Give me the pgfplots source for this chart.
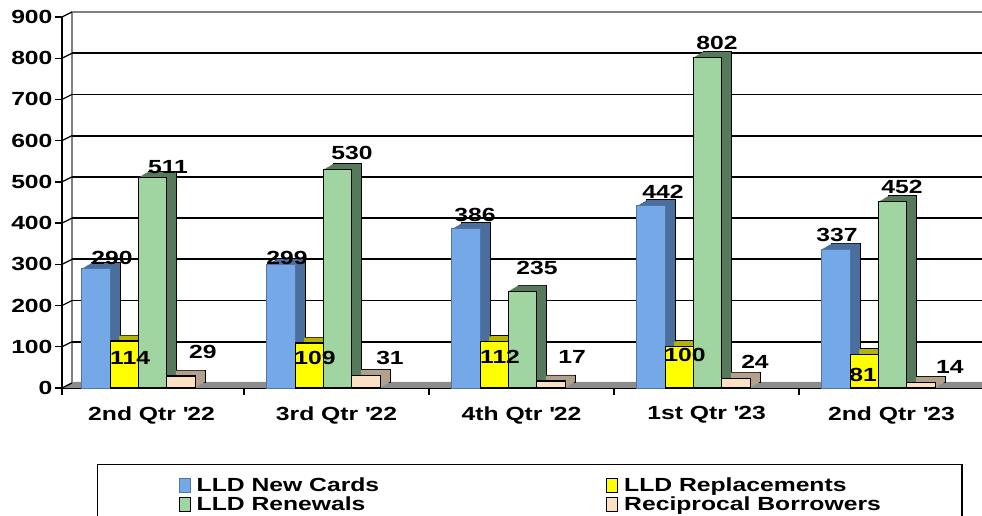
\documentclass[border=0pt]{standalone}
\usepackage{pgfplots}
\pgfplotsset{compat=1.18}
\usepackage{pgfplotstable}
\usepackage{fontspec}
\setmainfont{Liberation Sans}[FakeStretch=1.3]
\definecolor{blueF}{HTML}{74A8E6}
\definecolor{blueS}{HTML}{4A6F9E}
\definecolor{yelF}{HTML}{FFFF00}
\definecolor{yelS}{HTML}{B3B300}
\definecolor{grnF}{HTML}{A0D4A0}
\definecolor{grnS}{HTML}{55795A}
\definecolor{tanF}{HTML}{FBE0C4}
\definecolor{tanS}{HTML}{B0A08C}
\newcommand\ff{\bfseries\fontsize{19}{22}\selectfont}

\pgfplotstableread{
x nc rep ren rb
0 290 114 511 29
1 299 109 530 31
2 386 112 235 17
3 442 100 802 24
4 337 81 452 14
}\datatable

\pgfplotsset{
  bar3d/.style={ybar, bar width=28.5pt, forget plot},
  boxlegend/.style={legend image code/.code={\draw[##1, line width=1pt] (0pt,-6pt) rectangle (11pt,8pt);}},
}

\begin{document}
\begin{tikzpicture}
\useasboundingbox (0,0) rectangle (982pt,516pt);
\begin{axis}[
  at={(62pt,128pt)}, anchor=south west,
  scale only axis, width=922pt, height=371pt,
  xmin=-0.484, xmax=4.5, ymin=0, ymax=900,
  clip=false,
  axis x line*=bottom, axis y line*=left,
  axis line style={black, line width=1.6pt},
  ytick={0,100,...,900},
  xtick={0,1,2,3,4},
  xticklabels={2nd Qtr {\textquotesingle}22, 3rd Qtr {\textquotesingle}22, 4th Qtr {\textquotesingle}22, 1st Qtr {\textquotesingle}23, 2nd Qtr {\textquotesingle}23},
  minor xtick={-0.484,0.5,1.5,2.5,3.5},
  tick align=outside,
  major tick length=7pt, minor tick length=7pt,
  major x tick style={draw=none},
  minor x tick style={black, line width=1.3pt},
  major y tick style={black, line width=1.3pt},
  /pgf/number format/assume math mode=true,
  ticklabel style={font=\ff},
  yticklabel style={anchor=east, xshift=1pt},
  xticklabel style={anchor=north, yshift=-8pt},
  legend style={at={(0.038,-0.205)}, anchor=north west, draw=black, line width=1.3pt,
    inner xsep=81pt, inner ysep=13pt, font=\ff, legend columns=2,
    column sep=6pt, row sep=1pt,
    nodes={inner sep=0pt, text height=14pt, text depth=4pt},
    /tikz/every even column/.append style={column sep=227pt}},
  legend cell align=left,
]
% floor and back wall
\fill[gray!90] (axis cs:-0.484,0) -- ([xshift=10pt,yshift=6pt]axis cs:-0.484,0) -- ([xshift=10pt,yshift=6pt]axis cs:4.6,0) -- (axis cs:4.6,0) -- cycle;
\draw[gray, line width=1.3pt] ([xshift=10pt,yshift=6pt]axis cs:-0.484,0) -- ([xshift=10pt,yshift=6pt]axis cs:-0.484,900);
\draw[gray, line width=1.6pt] ([xshift=10pt,yshift=5pt]axis cs:-0.484,900) -- ([xshift=10pt,yshift=5pt]axis cs:4.6,900);
\pgfplotsinvokeforeach{100,200,...,800}{
  \draw[black, line width=1.7pt] ([xshift=10pt,yshift=5pt]axis cs:-0.484,#1) -- ([xshift=10pt,yshift=5pt]axis cs:4.6,#1);
}
\pgfplotsinvokeforeach{0,100,...,900}{
  \draw[black, line width=1.2pt] (axis cs:-0.484,#1) -- ([xshift=10pt,yshift=5pt]axis cs:-0.484,#1);
}
% 3D depth of bars
\addplot[bar3d, bar shift=-55.5pt, fill=blueS, draw=black, line width=0.8pt, xshift=10pt, yshift=6pt] table[x=x,y=nc]{\datatable};
\addplot[bar3d, bar shift=-27pt, fill=yelS, draw=black, line width=0.8pt, xshift=10pt, yshift=6pt] table[x=x,y=rep]{\datatable};
\addplot[bar3d, bar shift=1pt, fill=grnS, draw=black, line width=0.8pt, xshift=10pt, yshift=6pt] table[x=x,y=ren]{\datatable};
\addplot[bar3d, bar shift=29.5pt, fill=tanS, draw=black, line width=0.8pt, xshift=10pt, yshift=6pt] table[x=x,y=rb]{\datatable};
\pgfplotsinvokeforeach{1,2,3,4,5,6,7,8,9}{
\addplot[bar3d, bar shift=-55.5pt, fill=blueS, draw=none, xshift=#1pt, yshift=0.6*#1pt] table[x=x,y=nc]{\datatable};
\addplot[bar3d, bar shift=-27pt, fill=yelS, draw=none, xshift=#1pt, yshift=0.6*#1pt] table[x=x,y=rep]{\datatable};
\addplot[bar3d, bar shift=1pt, fill=grnS, draw=none, xshift=#1pt, yshift=0.6*#1pt] table[x=x,y=ren]{\datatable};
\addplot[bar3d, bar shift=29.5pt, fill=tanS, draw=none, xshift=#1pt, yshift=0.6*#1pt] table[x=x,y=rb]{\datatable};
}
% front faces
\addplot[ybar, bar width=28.5pt, bar shift=-55.5pt, fill=blueF, draw=blueF!70!black, line width=0.8pt, boxlegend] table[x=x,y=nc]{\datatable};
\addplot[ybar, bar width=28.5pt, bar shift=-27pt, fill=yelF, draw=black, line width=1.2pt, boxlegend] table[x=x,y=rep]{\datatable};
\addplot[ybar, bar width=28.5pt, bar shift=1pt, fill=grnF, draw=black, line width=1.2pt, boxlegend] table[x=x,y=ren]{\datatable};
\addplot[ybar, bar width=28.5pt, bar shift=29.5pt, fill=tanF, draw=black, line width=1.2pt, boxlegend] table[x=x,y=rb]{\datatable};
\legend{LLD New Cards, LLD Replacements, LLD Renewals, Reciprocal Borrowers}
% data labels
\node[font=\ff] at (axis cs:-0.214,315.4) {290};
\node[font=\ff] at (axis cs:-0.116,72.8) {114};
\node[font=\ff] at (axis cs:0.089,536.1) {511};
\node[font=\ff] at (axis cs:0.278,87.3) {29};
\node[font=\ff] at (axis cs:0.732,315.4) {299};
\node[font=\ff] at (axis cs:0.884,72.8) {109};
\node[font=\ff] at (axis cs:1.084,570.1) {530};
\node[font=\ff] at (axis cs:1.289,72.8) {31};
\node[font=\ff] at (axis cs:1.748,419.7) {386};
\node[font=\ff] at (axis cs:1.884,75.2) {112};
\node[font=\ff] at (axis cs:2.084,291.1) {235};
\node[font=\ff] at (axis cs:2.273,75.2) {17};
\node[font=\ff] at (axis cs:2.765,475.5) {442};
\node[font=\ff] at (axis cs:2.884,80.1) {100};
\node[font=\ff] at (axis cs:3.057,836.9) {802};
\node[font=\ff] at (axis cs:3.262,63.1) {24};
\node[font=\ff] at (axis cs:3.705,371.2) {337};
\node[font=\ff] at (axis cs:3.846,31.5) {81};
\node[font=\ff] at (axis cs:4.057,487.6) {452};
\node[font=\ff] at (axis cs:4.316,50.9) {14};
\end{axis}
\end{tikzpicture}
\end{document}
